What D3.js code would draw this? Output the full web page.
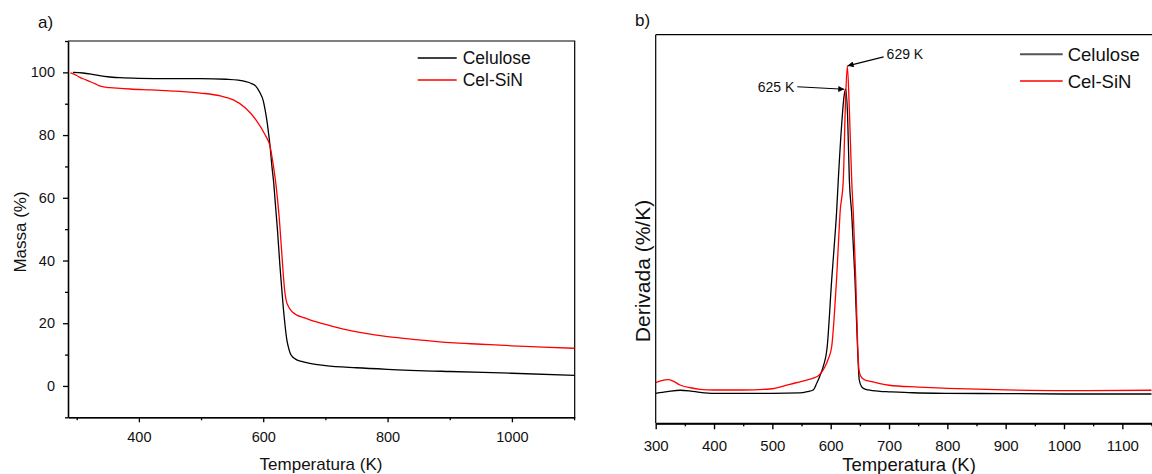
<!DOCTYPE html>
<html>
<head>
<meta charset="utf-8">
<script src="https://cdn.jsdelivr.net/npm/d3@7"></script>
<style>
  body { margin: 0; background: #fff; }
  svg { display: block; font-family: "Liberation Sans", Arial, sans-serif; }
  .axis path, .axis line { stroke: #000; }
  .axis text { fill: #111; }
</style>
</head>
<body>
<svg id="chart" width="1152" height="474"></svg>
<script>
// ---- panel a: TGA mass curves ----
const celTemp = [294, 310, 330, 350, 370, 400, 450, 500, 540, 560, 579, 588, 595, 600, 603, 606, 608.5, 611, 614, 617, 619, 623, 627, 630, 632.6, 635, 638, 641, 643.4, 647, 650, 654, 660, 675, 700, 750, 800, 900, 1000, 1101];
const celMass = [100.0, 99.8, 99.2, 98.6, 98.3, 98.1, 98.0, 98.0, 97.8, 97.5, 96.6, 95.6, 93.4, 91.0, 88.1, 84.5, 80.7, 76.5, 70.0, 64.5, 59.4, 49.5, 38.0, 30.5, 24.3, 19.5, 14.7, 12.0, 10.4, 9.3, 8.8, 8.3, 7.9, 7.2, 6.5, 5.8, 5.3, 4.6, 4.05, 3.4];
const sinTemp = [290, 300, 305, 315, 322, 330, 338, 354, 370, 386, 420, 450, 499, 531, 552, 571, 590, 603, 611, 616.5, 620, 623, 626, 628, 630, 632.5, 635, 637.5, 640, 643.4, 648, 654, 665, 675, 700, 729, 760, 800, 850, 901, 950, 1000, 1050, 1101];
const sinMass = [99.8, 99.0, 98.4, 97.6, 97.0, 96.3, 95.6, 95.1, 94.9, 94.7, 94.4, 94.1, 93.4, 92.5, 91.2, 88.7, 84.4, 80.1, 76.4, 70.0, 65.0, 59.5, 53.0, 47.5, 42.0, 35.0, 29.6, 26.8, 25.6, 24.4, 23.4, 22.6, 21.8, 21.1, 19.6, 18.1, 16.9, 15.7, 14.7, 13.8, 13.3, 12.8, 12.4, 12.0];
const massTicks = [0, 20, 40, 60, 80, 100];
const massMinor = [-10, 10, 30, 50, 70, 90, 110];
const tempTicksA = [400, 600, 800, 1000];
const tempMinorA = [300, 500, 700, 900, 1100];

// ---- panel b: DTG curves ----
const celDTemp = [300, 320, 342, 360, 376, 400, 500, 547, 560, 570, 576, 581, 587, 594, 601.7, 606, 610, 613, 619, 622.5, 625.7, 629, 632, 636, 641.7, 646, 649, 653, 658, 664.5, 684.5, 700, 741, 800, 900, 1000, 1100, 1150];
const celDeriv = [0.0, 0.012, 0.022, 0.016, 0.007, 0.0, 0.0, 0.003, 0.012, 0.024, 0.072, 0.12, 0.19, 0.336, 0.818, 1.06, 1.30, 1.539, 1.95, 2.13, 2.195, 2.0, 1.539, 1.30, 0.818, 0.336, 0.096, 0.048, 0.032, 0.024, 0.014, 0.011, 0.004, 0.0, -0.002, -0.005, -0.005, -0.005];
const sinDTemp = [300, 310, 321.6, 330, 341.7, 360, 376, 400, 450, 500, 519, 530, 547, 559, 570, 580, 590, 596, 601.7, 606, 610, 613, 616, 621.6, 625, 628.5, 632, 636, 638.8, 643, 646.3, 648.5, 652, 658.8, 670, 684.5, 700, 750, 800, 900, 1000, 1150];
const sinDeriv = [0.077, 0.092, 0.099, 0.088, 0.060, 0.040, 0.029, 0.024, 0.024, 0.033, 0.052, 0.065, 0.083, 0.096, 0.110, 0.13, 0.19, 0.25, 0.336, 0.55, 0.818, 1.06, 1.30, 1.539, 2.05, 2.364, 2.05, 1.539, 1.30, 0.818, 0.336, 0.168, 0.12, 0.096, 0.085, 0.07, 0.058, 0.045, 0.036, 0.024, 0.019, 0.022];
const tempTicksB = [300, 400, 500, 600, 700, 800, 900, 1000, 1100];
const tempMinorB = [350, 450, 550, 650, 750, 850, 950, 1050, 1150];
const peakCel = 625, peakSin = 629;

const seriesNames = ["Celulose", "Cel-SiN"];
const colors = ["#000000", "#ff0000"];

const svg = d3.select("#chart");
const fmt = d3.format("d");

function zip(xs, ys) { return xs.map((x, i) => [x, ys[i]]); }

// ================= panel a =================
const xA = d3.scaleLinear().domain([286, 1101]).range([68, 574.7]);
const yA = d3.scaleLinear().domain([-10, 110]).range([417.3, 41]);

const gA = svg.append("g");

// frame top/right
gA.append("path")
    .attr("d", `M${xA.range()[0]},${yA.range()[1]}H${xA.range()[1]}V${yA.range()[0]}`)
    .attr("fill", "none").attr("stroke", "#000").attr("stroke-width", 1.2);

const lineA = d3.line().x(d => xA(d[0])).y(d => yA(d[1])).curve(d3.curveMonotoneX);
gA.append("path").datum(zip(celTemp, celMass)).attr("d", lineA)
    .attr("fill", "none").attr("stroke", colors[0]).attr("stroke-width", 1.3);
gA.append("path").datum(zip(sinTemp, sinMass)).attr("d", lineA)
    .attr("fill", "none").attr("stroke", colors[1]).attr("stroke-width", 1.3);

// axes
gA.append("g").attr("class", "axis").attr("transform", `translate(0,${yA.range()[0]})`)
    .call(d3.axisBottom(xA).tickValues(tempMinorA).tickSize(3).tickSizeOuter(0).tickFormat(""));
gA.append("g").attr("class", "axis").attr("transform", `translate(0,${yA.range()[0]})`)
    .call(d3.axisBottom(xA).tickValues(tempTicksA).tickSize(5).tickPadding(9).tickSizeOuter(0).tickFormat(fmt))
    .call(g => g.selectAll("text").attr("font-size", 14.5))
    .call(g => g.select(".domain").attr("stroke-width", 1.6));
gA.append("g").attr("class", "axis").attr("transform", `translate(${xA.range()[0]},0)`)
    .call(d3.axisLeft(yA).tickValues(massMinor).tickSize(3).tickSizeOuter(0).tickFormat(""));
gA.append("g").attr("class", "axis").attr("transform", `translate(${xA.range()[0]},0)`)
    .call(d3.axisLeft(yA).tickValues(massTicks).tickSize(5).tickPadding(8).tickSizeOuter(0).tickFormat(fmt))
    .call(g => g.selectAll("text").attr("font-size", 14.5))
    .call(g => g.select(".domain").attr("stroke-width", 1.6));
gA.selectAll(".axis line").attr("stroke-width", 1.3);

gA.append("text").attr("x", 321).attr("y", 470).attr("text-anchor", "middle")
    .attr("font-size", 17).attr("fill", "#111").text("Temperatura (K)");
gA.append("text").attr("transform", "translate(26,232) rotate(-90)").attr("text-anchor", "middle")
    .attr("font-size", 17).attr("fill", "#111").text("Massa (%)");
gA.append("text").attr("x", 38).attr("y", 28).attr("font-size", 17).attr("fill", "#111").text("a)");

// legend a
seriesNames.forEach((name, i) => {
    const ly = 58 + i * 22;
    gA.append("line").attr("x1", 417.7).attr("x2", 456.7).attr("y1", ly).attr("y2", ly)
        .attr("stroke", colors[i]).attr("stroke-width", 1.3);
    gA.append("text").attr("x", 462.7).attr("y", ly + 6).attr("font-size", 17.5)
        .attr("fill", "#111").text(name);
});

// ================= panel b =================
const xB = d3.scaleLinear().domain([300, 1150]).range([655.7, 1151.5]);
const yB = d3.scaleLinear().domain([-0.2166, 2.589]).range([423.3, 34.7]);

const gB = svg.append("g");

gB.append("path")
    .attr("d", `M${xB.range()[0]},${yB.range()[1]}H1152`)
    .attr("fill", "none").attr("stroke", "#000").attr("stroke-width", 1.2);
gB.append("line").attr("x1", xB.range()[0]).attr("x2", xB.range()[0])
    .attr("y1", yB.range()[1]).attr("y2", yB.range()[0])
    .attr("stroke", "#000").attr("stroke-width", 1.2);

const lineB = d3.line().x(d => xB(d[0])).y(d => yB(d[1])).curve(d3.curveMonotoneX);
gB.append("path").datum(zip(celDTemp, celDeriv)).attr("d", lineB)
    .attr("fill", "none").attr("stroke", colors[0]).attr("stroke-width", 1.3);
gB.append("path").datum(zip(sinDTemp, sinDeriv)).attr("d", lineB)
    .attr("fill", "none").attr("stroke", colors[1]).attr("stroke-width", 1.3);

gB.append("g").attr("class", "axis").attr("transform", `translate(0,${yB.range()[0]})`)
    .call(d3.axisBottom(xB).tickValues(tempMinorB).tickSize(3).tickSizeOuter(0).tickFormat(""));
gB.append("g").attr("class", "axis").attr("transform", `translate(0,${yB.range()[0]})`)
    .call(d3.axisBottom(xB).tickValues(tempTicksB).tickSize(6).tickPadding(11).tickSizeOuter(0).tickFormat(fmt))
    .call(g => g.selectAll("text").attr("font-size", 15))
    .call(g => g.select(".domain").attr("stroke-width", 2));
gB.selectAll(".axis line").attr("stroke-width", 1.4);

gB.append("text").attr("x", 909).attr("y", 470.5).attr("text-anchor", "middle")
    .attr("font-size", 18.5).attr("fill", "#111").text("Temperatura (K)");
gB.append("text").attr("transform", "translate(650,271) rotate(-90)").attr("text-anchor", "middle")
    .attr("font-size", 21).attr("fill", "#111").text("Derivada (%/K)");
gB.append("text").attr("x", 635).attr("y", 26).attr("font-size", 17).attr("fill", "#111").text("b)");

// peak annotations
const defs = svg.append("defs");
defs.append("marker").attr("id", "arrow").attr("viewBox", "0 0 10 10")
    .attr("refX", 10).attr("refY", 5).attr("markerWidth", 9).attr("markerHeight", 6)
    .attr("markerUnits", "userSpaceOnUse").attr("orient", "auto")
    .append("path").attr("d", "M0,0L10,5L0,10Z").attr("fill", "#000");

const celPeakY = d3.max(celDeriv), sinPeakY = d3.max(sinDeriv);
const tipC = [xB(peakCel) - 1, yB(celPeakY)];
gB.append("line").attr("x1", tipC[0] - 47).attr("y1", tipC[1] - 2.5).attr("x2", tipC[0]).attr("y2", tipC[1])
    .attr("stroke", "#000").attr("stroke-width", 1.1).attr("marker-end", "url(#arrow)");
gB.append("text").attr("x", tipC[0] - 50).attr("y", tipC[1] + 2.5).attr("text-anchor", "end")
    .attr("font-size", 14).attr("fill", "#111").text(peakCel + " K");

const tipS = [xB(peakSin), yB(sinPeakY)];
gB.append("line").attr("x1", tipS[0] + 36).attr("y1", tipS[1] - 9).attr("x2", tipS[0]).attr("y2", tipS[1])
    .attr("stroke", "#000").attr("stroke-width", 1.1).attr("marker-end", "url(#arrow)");
gB.append("text").attr("x", tipS[0] + 39).attr("y", tipS[1] - 7).attr("font-size", 14)
    .attr("fill", "#111").text(peakSin + " K");

// legend b
seriesNames.forEach((name, i) => {
    const ly = 54.3 + i * 26.7;
    gB.append("line").attr("x1", 1020).attr("x2", 1062.7).attr("y1", ly).attr("y2", ly)
        .attr("stroke", i === 0 ? "#555" : colors[i]).attr("stroke-width", i === 0 ? 2 : 1.3);
    gB.append("text").attr("x", 1067.7).attr("y", ly + 6.5).attr("font-size", 18.5)
        .attr("fill", "#111").text(name);
});
</script>
</body>
</html>
